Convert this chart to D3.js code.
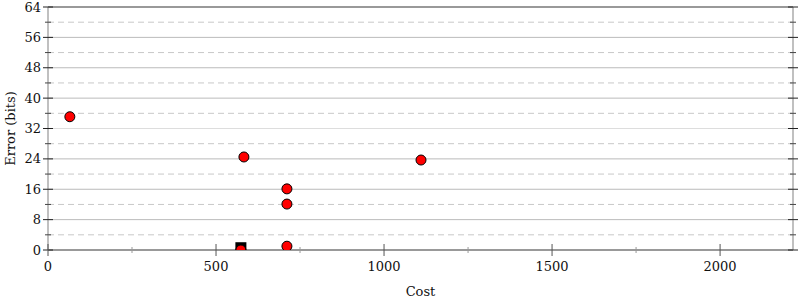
<!DOCTYPE html>
<html>
<head>
<meta charset="utf-8">
<script src="https://cdn.jsdelivr.net/npm/d3@7"></script>
<style>
  body { margin: 0; background: #fff; }
  text { font-family: "DejaVu Serif", serif; font-size: 13px; fill: #111; }
</style>
</head>
<body>
<svg width="800" height="300"></svg>
<script>
// alternatives found (red circles)
const cost = [65, 583, 711, 711, 711, 1110, 574];
const errorBits = [35.1, 24.5, 16.1, 12.1, 1.0, 23.7, 0];
// starting program (black square)
const startCost = [574];
const startError = [0.6];

const xTicks = [0, 500, 1000, 1500, 2000];
const yTicks = [0, 8, 16, 24, 32, 40, 48, 56, 64];

const svg = d3.select('svg');
const margin = {left: 48, right: 7, top: 7, bottom: 50};
const width = +svg.attr('width');
const height = +svg.attr('height');

const x = d3.scaleLinear().domain([0, 2217]).range([margin.left, width - margin.right]);
const y = d3.scaleLinear().domain([0, 64]).range([height - margin.bottom, margin.top]);

const x0 = x.range()[0], x1 = x.range()[1];
const y0 = y.range()[0], y1 = y.range()[1];

// grid
const minorY = d3.range(4, 64, 8);
svg.append('g').selectAll('line').data(minorY).join('line')
  .attr('x1', x0).attr('x2', x1)
  .attr('y1', d => y(d)).attr('y2', d => y(d))
  .attr('stroke', '#c8c8c8').attr('stroke-dasharray', '6,4');
svg.append('g').selectAll('line').data(yTicks.filter(d => d > 0 && d < 64)).join('line')
  .attr('x1', x0).attr('x2', x1)
  .attr('y1', d => y(d)).attr('y2', d => y(d))
  .attr('stroke', d => d === 32 ? '#dddddd' : '#bbbbbb');

// frame
svg.append('line').attr('x1', x0).attr('x2', x0).attr('y1', y0).attr('y2', y1)
  .attr('stroke', '#c0c0c0').attr('stroke-width', 2);
svg.append('line').attr('x1', x1).attr('x2', x1).attr('y1', y0).attr('y2', y1)
  .attr('stroke', '#c0c0c0').attr('stroke-width', 2);
svg.append('line').attr('x1', x0).attr('x2', x1).attr('y1', y1).attr('y2', y1)
  .attr('stroke', '#999').attr('stroke-width', 2);
svg.append('line').attr('x1', x0).attr('x2', x1).attr('y1', y0).attr('y2', y0)
  .attr('stroke', '#999').attr('stroke-width', 2);

// y axis: labels and ticks left and right
const yAxis = svg.append('g');
yAxis.selectAll('text').data(yTicks).join('text')
  .attr('x', x0 - 7).attr('y', d => y(d)).attr('dy', '0.35em')
  .attr('text-anchor', 'end').text(d => d);
[x0, x1].forEach(px => {
  yAxis.append('g').selectAll('line').data(yTicks).join('line')
    .attr('x1', px - 5).attr('x2', px + 5)
    .attr('y1', d => y(d)).attr('y2', d => y(d))
    .attr('stroke', '#222');
  yAxis.append('g').selectAll('line').data(minorY).join('line')
    .attr('x1', px - 3).attr('x2', px + 3)
    .attr('y1', d => y(d)).attr('y2', d => y(d))
    .attr('stroke', '#444');
});

// x axis
const xAxis = svg.append('g');
xAxis.selectAll('line.major').data(xTicks).join('line')
  .attr('class', 'major')
  .attr('x1', d => x(d)).attr('x2', d => x(d))
  .attr('y1', y0 - 6).attr('y2', y0 + 6)
  .attr('stroke', '#555');
xAxis.selectAll('line.minor').data([250, 750, 1250, 1750]).join('line')
  .attr('class', 'minor')
  .attr('x1', d => x(d)).attr('x2', d => x(d))
  .attr('y1', y0 - 3).attr('y2', y0 + 3)
  .attr('stroke', '#999');
xAxis.selectAll('text').data(xTicks).join('text')
  .attr('x', d => x(d)).attr('y', y0 + 16).attr('dy', '0.35em')
  .attr('text-anchor', 'middle').text(d => d);

// axis titles
svg.append('text').attr('x', (x0 + x1) / 2).attr('y', 291).attr('dy', '0.35em')
  .attr('text-anchor', 'middle').text('Cost');
svg.append('text')
  .attr('transform', `translate(10,${(y0 + y1) / 2}) rotate(-90)`)
  .attr('dy', '0.35em').attr('text-anchor', 'middle').text('Error (bits)');

// points, clipped to the plot area
svg.append('clipPath').attr('id', 'plot')
  .append('rect').attr('x', x0).attr('y', y1).attr('width', x1 - x0).attr('height', y0 - y1);
const pts = svg.append('g').attr('clip-path', 'url(#plot)');
pts.selectAll('rect').data(startCost).join('rect')
  .attr('x', (d) => x(d) - 5.5)
  .attr('y', (d, i) => y(startError[i]) - 5.5)
  .attr('width', 11).attr('height', 11)
  .attr('fill', '#000');
pts.selectAll('circle').data(cost).join('circle')
  .attr('cx', d => x(d))
  .attr('cy', (d, i) => y(errorBits[i]))
  .attr('r', 5)
  .attr('fill', '#ff0000').attr('stroke', '#000').attr('stroke-width', 1);
</script>
</body>
</html>
